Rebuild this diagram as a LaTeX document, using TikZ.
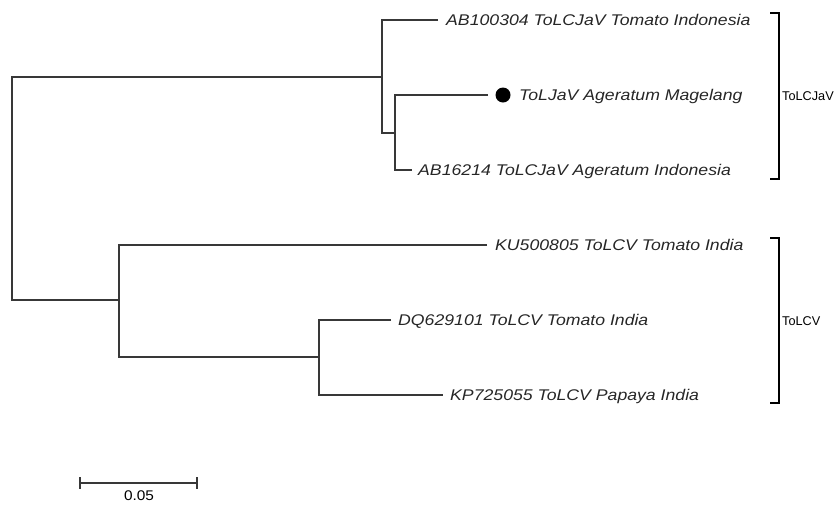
\documentclass[tikz,border=0pt]{standalone}
\usepackage{fontspec}
\newfontfamily\arialf{Liberation Sans}
\newcommand\wlbl[1]{\scalebox{1.14}[1]{#1}}
\begin{document}
\begin{tikzpicture}[x=1pt,y=-1pt,
  branch/.style={draw=black!78,line width=1.3pt},
  leaf/.style={anchor=west,inner xsep=8pt,inner ysep=0pt,text height=11pt,text depth=0pt,
    font=\arialf\itshape\fontsize{15.5}{18}\selectfont,text=black!85},
  clade/.style={anchor=west,inner sep=0pt,font=\arialf\fontsize{12.7}{15}\selectfont},
  bracket/.style={draw=black,line width=1.5pt}]
\useasboundingbox (0,0) rectangle (838,504);
% internal nodes
\coordinate (root) at (12,188);
\coordinate (nA) at (382,77);
\coordinate (nA2) at (395,133);
\coordinate (nB) at (119,300);
\coordinate (nB2) at (319,357);
% leaves
\node[leaf] (l1) at (438,20) {\wlbl{AB100304 ToLCJaV Tomato Indonesia}};
\node[circle,fill=black,inner sep=0pt,minimum size=15pt] (dot) at (503,95) {};
\node[leaf,inner xsep=0pt] (l2) at (519,95) {\wlbl{ToLJaV Ageratum Magelang}};
\coordinate (l2e) at (488,95);
\node[leaf,inner xsep=6pt] (l3) at (412,170) {\wlbl{AB16214 ToLCJaV Ageratum Indonesia}};
\node[leaf] (l4) at (487,245) {\wlbl{KU500805 ToLCV Tomato India}};
\node[leaf,inner xsep=7pt] (l5) at (391,320) {\wlbl{DQ629101 ToLCV Tomato India}};
\node[leaf,inner xsep=7pt] (l6) at (443,395) {\wlbl{KP725055 ToLCV Papaya India}};
% root
\draw[branch] (nA) -| (12,300) -- (nB);
% clade A
\draw[branch] (l1.west) -| (nA) |- (nA2);
\draw[branch] (l2e) -| (nA2) |- (l3.west);
% clade B
\draw[branch] (l4.west) -- (119,245);
\draw[branch,line width=2.2pt] (119,244.4) -- (119,357.6);
\draw[branch] (119,357) -- (nB2);
\draw[branch] (l5.west) -| (nB2) |- (l6.west);
% brackets
\draw[bracket] (770,13) -- (779,13) -- (779,179) -- (770,179);
\node[clade] (cA) at (782,96) {ToLCJaV};
\draw[bracket] (770,238) -- (779,238) -- (779,403) -- (770,403);
\node[clade] (cB) at (782,321) {ToLCV};
% scale bar
\coordinate (s1) at (80,483);
\coordinate (s2) at (197,483);
\draw[branch] (s1) -- (s2);
\draw[branch] (80,477) -- (80,489);
\draw[branch] (197,477) -- (197,489);
\node[font=\arialf\fontsize{14}{16}\selectfont,inner sep=0pt] (sl) at (139,496) {\scalebox{1.1}[1]{0.05}};
\end{tikzpicture}
\end{document}
